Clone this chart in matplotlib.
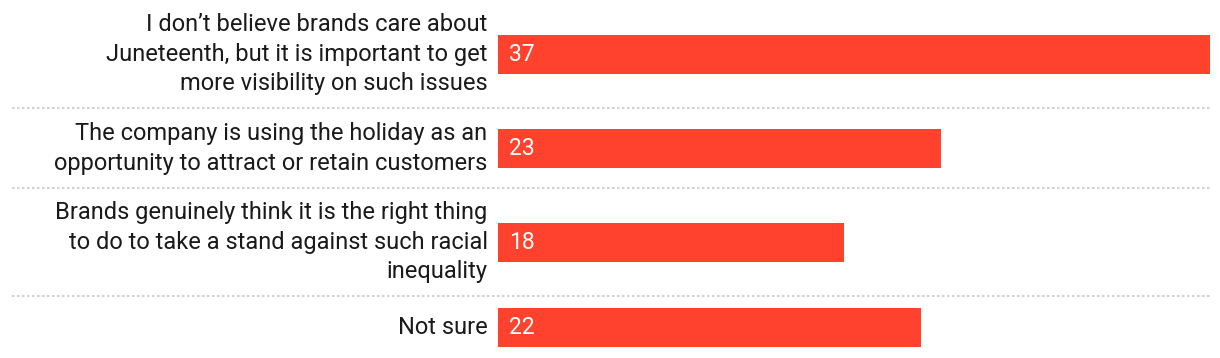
import matplotlib.pyplot as plt

categories = [
  "I don\u2019t believe brands care about\nJuneteenth, but it is important to get\nmore visibility on such issues",
  "The company is using the holiday as an\nopportunity to attract or retain customers",
  "Brands genuinely think it is the right thing\nto do to take a stand against such racial\ninequality",
  "Not sure",
]
values = [37, 23, 18, 22]

BAR_COLOR = "#FF422E"
W, H, DPI = 1220, 358, 100
LEFT_PX, RIGHT_PX = 498, 1210
LINE_PX, BAR_PX, PAD_PX = 28.5, 39, 23

plt.rcParams['font.family'] = ['Roboto', 'DejaVu Sans']

# band heights depend on how many lines the label has
bands = [(c.count("\n") + 1) * LINE_PX for c in categories]
bands = [max(b, BAR_PX) + PAD_PX for b in bands]
tops = [sum(bands[:i]) for i in range(len(bands))]
centers = [t + b / 2 for t, b in zip(tops, bands)]
total = sum(bands)

fig = plt.figure(figsize=(W / DPI, H / DPI), dpi=DPI)
ax = fig.add_axes([LEFT_PX / W, 0, (RIGHT_PX - LEFT_PX) / W, 1])
ax.barh(centers, values, height=BAR_PX, color=BAR_COLOR)
ax.set_xlim(0, max(values))
ax.set_ylim(total, 0)
ax.axis("off")

for c, v, lab in zip(centers, values, categories):
  ax.annotate(lab, (0, c), xytext=(-7.5, 0), textcoords="offset points",
              ha="right", va="center", fontsize=17, color="#1a1a1a",
              linespacing=1.38, multialignment="right")
  ax.annotate(str(v), (0, c), xytext=(8, 0), textcoords="offset points",
              ha="left", va="center", fontsize=16.5, color="white")

xmin = (12 - LEFT_PX) / (RIGHT_PX - LEFT_PX)
for t in tops[1:]:
  ax.axhline(t, xmin=xmin, xmax=1, color="#c8c8c8", lw=1.2,
             ls=(0, (1.5, 1.5)), clip_on=False)

fig.savefig("out.png", dpi=DPI)
